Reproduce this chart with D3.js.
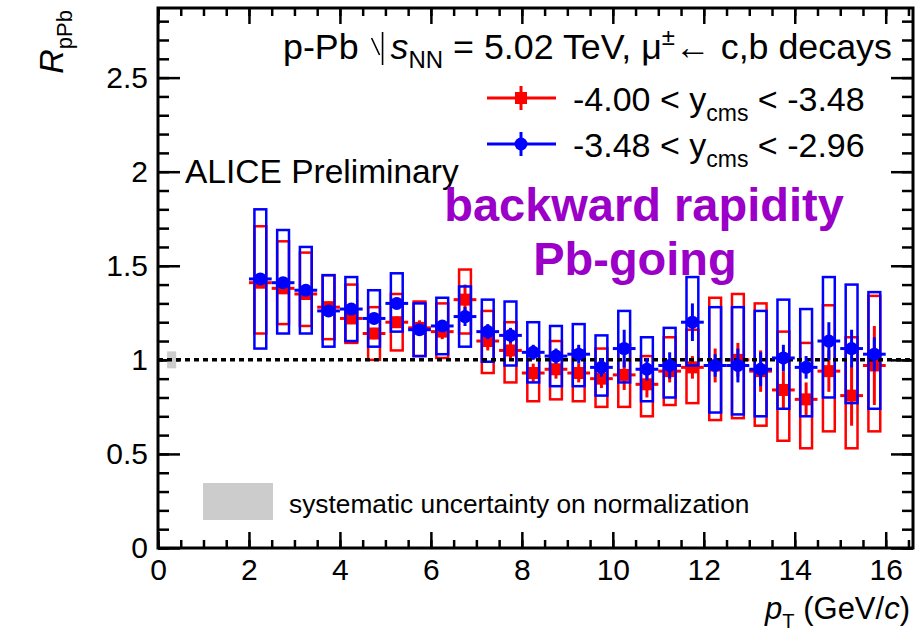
<!DOCTYPE html>
<html>
<head>
<meta charset="utf-8">
<script src="https://cdn.jsdelivr.net/npm/d3@7"></script>
<style>
  body { margin: 0; background: #fff; }
  svg { font-family: "Liberation Sans", Arial, sans-serif; }
</style>
</head>
<body>
<svg id="chart" width="923" height="638"></svg>
<script>
// pT bin centres (GeV/c), bin width 0.5
const ptBins = [2.25, 2.75, 3.25, 3.75, 4.25, 4.75, 5.25, 5.75, 6.25, 6.75,
    7.25, 7.75, 8.25, 8.75, 9.25, 9.75, 10.25, 10.75, 11.25, 11.75,
    12.25, 12.75, 13.25, 13.75, 14.25, 14.75, 15.25, 15.75];

// -4.00 < y_cms < -3.48 (red squares)
const redVal = [1.41, 1.38, 1.35, 1.28, 1.22, 1.14, 1.20, 1.17, 1.15, 1.32,
    1.10, 1.05, 0.93, 0.95, 0.93, 0.90, 0.92, 0.87, 0.94, 0.96,
    0.97, 1.00, 0.94, 0.84, 0.79, 0.94, 0.81, 0.97];
const redStat = [0.02, 0.02, 0.02, 0.03, 0.03, 0.03, 0.03, 0.04, 0.04, 0.08,
    0.05, 0.05, 0.05, 0.05, 0.05, 0.05, 0.08, 0.07, 0.06, 0.06,
    0.09, 0.09, 0.11, 0.10, 0.09, 0.11, 0.16, 0.21];
const redSysLo = [1.14, 1.19, 1.18, 1.11, 1.09, 1.00, 1.05, 1.02, 1.01, 1.14,
    0.93, 0.88, 0.78, 0.79, 0.78, 0.75, 0.75, 0.70, 0.76, 0.77,
    0.68, 0.69, 0.65, 0.57, 0.53, 0.62, 0.53, 0.62];
const redSysHi = [1.71, 1.63, 1.57, 1.45, 1.40, 1.28, 1.35, 1.31, 1.30, 1.48,
    1.26, 1.20, 1.02, 1.10, 1.05, 1.06, 1.08, 1.02, 1.12, 1.16,
    1.33, 1.35, 1.30, 1.15, 1.09, 1.29, 1.12, 1.34];

// -3.48 < y_cms < -2.96 (blue circles)
const blueVal = [1.43, 1.41, 1.37, 1.26, 1.27, 1.22, 1.30, 1.16, 1.18, 1.23,
    1.15, 1.13, 1.04, 1.02, 1.03, 0.96, 1.06, 0.95, 0.97, 1.20,
    0.97, 0.97, 0.95, 1.01, 0.96, 1.10, 1.06, 1.03];
const blueStat = [0.02, 0.02, 0.02, 0.02, 0.02, 0.03, 0.03, 0.03, 0.03, 0.05,
    0.04, 0.04, 0.04, 0.04, 0.05, 0.05, 0.10, 0.06, 0.07, 0.10,
    0.06, 0.09, 0.09, 0.07, 0.06, 0.10, 0.10, 0.09];
const blueSysLo = [1.06, 1.14, 1.14, 1.07, 1.10, 1.07, 1.15, 1.02, 1.03, 1.07,
    0.99, 0.97, 0.88, 0.86, 0.86, 0.81, 0.88, 0.78, 0.80, 0.97,
    0.72, 0.71, 0.70, 0.74, 0.70, 0.80, 0.77, 0.74];
const blueSysHi = [1.80, 1.69, 1.60, 1.45, 1.44, 1.37, 1.46, 1.30, 1.33, 1.39,
    1.32, 1.31, 1.20, 1.18, 1.19, 1.13, 1.26, 1.12, 1.17, 1.44,
    1.28, 1.28, 1.26, 1.32, 1.27, 1.44, 1.40, 1.36];

// normalisation uncertainty box around unity
const normCentre = 0.3;
const normErr = 0.045;

const xTicks = [0, 2, 4, 6, 8, 10, 12, 14, 16];
const yTicks = [0, 0.5, 1, 1.5, 2, 2.5];

const RED = '#ff0000';
const BLUE = '#0000ff';
const PURPLE = '#9a00c8';

const M = { left: 158, right: 913, top: 8, bottom: 548 };
const svg = d3.select('#chart');

const x = d3.scaleLinear().domain([0, 16.6]).range([M.left, M.right]);
const y = d3.scaleLinear().domain([0, 2.87]).range([M.bottom, M.top]);

const halfBin = 0.25;
const boxHalf = 0.13;

function series(vals, stat, lo, hi) {
    return ptBins.map((pt, i) => ({ pt, v: vals[i], s: stat[i], lo: lo[i], hi: hi[i] }));
}
const red = series(redVal, redStat, redSysLo, redSysHi);
const blue = series(blueVal, blueStat, blueSysLo, blueSysHi);

// ---- axes (ticks pointing inwards, ROOT style)
const xMinor = d3.range(0, 16.6, 0.5);
const yMinor = d3.range(0, 2.87, 0.1);

function styleAxis(g) {
    g.select('.domain').remove();
    g.selectAll('line').attr('stroke', '#000').attr('stroke-width', 2.5);
    g.selectAll('text').attr('fill', '#000').attr('font-size', 30)
        .attr('font-family', '"Liberation Sans", Arial, sans-serif');
}

svg.append('g').attr('transform', `translate(0,${M.bottom})`)
    .call(d3.axisBottom(x).tickValues(xMinor).tickSize(-8).tickFormat(''))
    .call(styleAxis);
svg.append('g').attr('transform', `translate(0,${M.bottom})`)
    .call(d3.axisBottom(x).tickValues(xTicks).tickSize(-16).tickPadding(11).tickFormat(d3.format('d')))
    .call(styleAxis);
svg.append('g').attr('transform', `translate(0,${M.top})`)
    .call(d3.axisTop(x).tickValues(xMinor).tickSize(-8).tickFormat(''))
    .call(styleAxis);
svg.append('g').attr('transform', `translate(0,${M.top})`)
    .call(d3.axisTop(x).tickValues(xTicks).tickSize(-16).tickFormat(''))
    .call(styleAxis);

svg.append('g').attr('transform', `translate(${M.left},0)`)
    .call(d3.axisLeft(y).tickValues(yMinor).tickSize(-11).tickFormat(''))
    .call(styleAxis);
svg.append('g').attr('transform', `translate(${M.left},0)`)
    .call(d3.axisLeft(y).tickValues(yTicks).tickSize(-22).tickPadding(10).tickFormat(d => d))
    .call(styleAxis);
svg.append('g').attr('transform', `translate(${M.right},0)`)
    .call(d3.axisRight(y).tickValues(yMinor).tickSize(-11).tickFormat(''))
    .call(styleAxis);
svg.append('g').attr('transform', `translate(${M.right},0)`)
    .call(d3.axisRight(y).tickValues(yTicks).tickSize(-22).tickFormat(''))
    .call(styleAxis);

// frame
svg.append('rect')
    .attr('x', M.left).attr('y', M.top)
    .attr('width', M.right - M.left).attr('height', M.bottom - M.top)
    .attr('fill', 'none').attr('stroke', '#000').attr('stroke-width', 3);

// ---- axis titles
const yTitle = svg.append('text')
    .attr('transform', `translate(63,10) rotate(-90)`)
    .attr('text-anchor', 'end')
    .attr('font-size', 34);
yTitle.append('tspan').attr('font-style', 'italic').text('R');
yTitle.append('tspan').attr('font-size', 22).attr('dy', 9).text('pPb');

const xTitle = svg.append('text')
    .attr('x', 910).attr('y', 619)
    .attr('text-anchor', 'end')
    .attr('font-size', 31);
xTitle.append('tspan').attr('font-style', 'italic').text('p');
xTitle.append('tspan').attr('font-size', 20).attr('dy', 9).text('T');
xTitle.append('tspan').attr('dy', -9).text(' (GeV/');
xTitle.append('tspan').attr('font-style', 'italic').text('c');
xTitle.append('tspan').text(')');

// ---- normalisation box
svg.append('rect')
    .attr('x', x(normCentre - 0.1)).attr('width', x(normCentre + 0.1) - x(normCentre - 0.1))
    .attr('y', y(1 + normErr)).attr('height', y(1 - normErr) - y(1 + normErr))
    .attr('fill', '#cccccc');

// ---- data
function drawBoxes(data, colour) {
    svg.append('g').selectAll('rect').data(data).join('rect')
        .attr('x', d => x(d.pt - boxHalf))
        .attr('width', d => x(d.pt + boxHalf) - x(d.pt - boxHalf))
        .attr('y', d => y(d.hi))
        .attr('height', d => y(d.lo) - y(d.hi))
        .attr('fill', 'none').attr('stroke', colour).attr('stroke-width', 2.5);
}

function drawPoints(data, colour, shape) {
    const g = svg.append('g');
    g.selectAll('line.h').data(data).join('line').attr('class', 'h')
        .attr('x1', d => x(d.pt - halfBin)).attr('x2', d => x(d.pt + halfBin))
        .attr('y1', d => y(d.v)).attr('y2', d => y(d.v))
        .attr('stroke', colour).attr('stroke-width', 3);
    g.selectAll('line.v').data(data).join('line').attr('class', 'v')
        .attr('x1', d => x(d.pt)).attr('x2', d => x(d.pt))
        .attr('y1', d => y(d.v - d.s)).attr('y2', d => y(d.v + d.s))
        .attr('stroke', colour).attr('stroke-width', 3);
    if (shape === 'square') {
        g.selectAll('rect').data(data).join('rect')
            .attr('x', d => x(d.pt) - 6).attr('y', d => y(d.v) - 6)
            .attr('width', 12).attr('height', 12).attr('fill', colour);
    } else {
        g.selectAll('circle').data(data).join('circle')
            .attr('cx', d => x(d.pt)).attr('cy', d => y(d.v))
            .attr('r', 6.5).attr('fill', colour);
    }
}

drawBoxes(red, RED);
drawPoints(red, RED, 'square');
drawBoxes(blue, BLUE);

// dashed unity line
svg.append('line')
    .attr('x1', x(0)).attr('x2', M.right)
    .attr('y1', y(1)).attr('y2', y(1))
    .attr('stroke', '#000').attr('stroke-width', 3.5)
    .attr('stroke-dasharray', '5,4');

drawPoints(blue, BLUE, 'circle');

// ---- texts
const header = svg.append('text').attr('x', 283).attr('y', 59).attr('font-size', 35.8);
header.append('tspan').text('p-Pb ');
header.append('tspan').attr('dx', 22).attr('font-style', 'italic').text('s');
header.append('tspan').attr('font-size', 24).attr('dy', 9).text('NN');
header.append('tspan').attr('dy', -9).text(' = 5.02 TeV, μ');
header.append('tspan').attr('font-size', 24).attr('dy', -14).text('±');
header.append('tspan').attr('dy', 14).text('← c,b decays');
// broken sqrt sign as drawn in the original, placed just before the "s"
const sPos = header.node().getStartPositionOfChar(5);
svg.append('path')
    .attr('d', `M${sPos.x - 19},${sPos.y - 21} L${sPos.x - 11},${sPos.y - 4} M${sPos.x - 8},${sPos.y - 27} L${sPos.x - 8},${sPos.y + 6}`)
    .attr('stroke', '#000').attr('stroke-width', 1.6).attr('fill', 'none');

const legend = [
    { label: '-4.00 < y', tail: ' < -3.48', colour: RED, shape: 'square', yPos: 98 },
    { label: '-3.48 < y', tail: ' < -2.96', colour: BLUE, shape: 'circle', yPos: 144 }
];
legend.forEach(l => {
    const g = svg.append('g');
    g.append('line').attr('x1', 487).attr('x2', 556).attr('y1', l.yPos).attr('y2', l.yPos)
        .attr('stroke', l.colour).attr('stroke-width', 3);
    g.append('line').attr('x1', 521).attr('x2', 521).attr('y1', l.yPos - 12).attr('y2', l.yPos + 12)
        .attr('stroke', l.colour).attr('stroke-width', 3);
    if (l.shape === 'square') {
        g.append('rect').attr('x', 515).attr('y', l.yPos - 6).attr('width', 12).attr('height', 12)
            .attr('fill', l.colour);
    } else {
        g.append('circle').attr('cx', 521).attr('cy', l.yPos).attr('r', 6.5).attr('fill', l.colour);
    }
    const t = g.append('text').attr('x', 573).attr('y', l.yPos + 13).attr('font-size', 34);
    t.append('tspan').text(l.label);
    t.append('tspan').attr('font-size', 23).attr('dy', 10).text('cms');
    t.append('tspan').attr('dy', -10).text(l.tail);
});

svg.append('text').attr('x', 185).attr('y', 183).attr('font-size', 33.5).text('ALICE Preliminary');

svg.append('text').attr('x', 644).attr('y', 221).attr('text-anchor', 'middle')
    .attr('font-size', 47).attr('font-weight', 'bold').attr('fill', PURPLE)
    .text('backward rapidity');
svg.append('text').attr('x', 635).attr('y', 275).attr('text-anchor', 'middle')
    .attr('font-size', 47).attr('font-weight', 'bold').attr('fill', PURPLE)
    .text('Pb-going');

// normalisation legend
svg.append('rect').attr('x', 203).attr('y', 483).attr('width', 70).attr('height', 37)
    .attr('fill', '#cccccc');
svg.append('text').attr('x', 289).attr('y', 513).attr('font-size', 26.3)
    .text('systematic uncertainty on normalization');
</script>
</body>
</html>
